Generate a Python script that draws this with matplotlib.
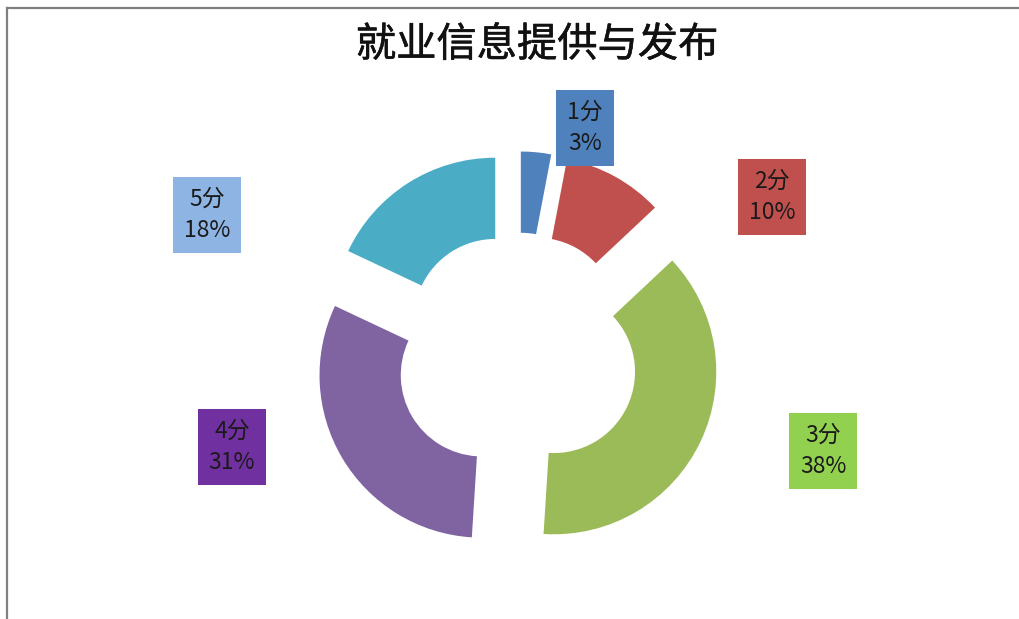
import matplotlib
matplotlib.use("Agg")
import matplotlib.pyplot as plt
import matplotlib.patheffects as pe
from matplotlib.lines import Line2D

plt.rcParams['font.family'] = ['Noto Sans CJK SC', 'DejaVu Sans']

title = "就业信息提供与发布"
scores = ["1分", "2分", "3分", "4分", "5分"]
shares = [3, 10, 38, 31, 18]
wedge_colors = ["#4F81BD", "#C0504D", "#9BBB59", "#8064A2", "#4BACC6"]
box_colors = ["#4F81BD", "#C0504D", "#92D050", "#7030A0", "#8DB4E2"]
# label box centres in pixels (x, y from top)
label_pos = [(585, 128), (772, 197), (823, 451), (232, 447), (207, 215)]

W, H = 1019, 619
cx, cy, R = 517, 354.5, 162.5

fig = plt.figure(figsize=(W / 100, H / 100), dpi=100)
ax = fig.add_axes([0, 0, 1, 1])

ax.pie(shares, explode=[0.25] * len(shares), startangle=90, counterclock=False,
       colors=wedge_colors, radius=1, wedgeprops=dict(width=0.5, linewidth=0))

# data units: 1 = outer radius, placed at the pixel centre
ax.set_xlim(-cx / R, (W - cx) / R)
ax.set_ylim(-(H - cy) / R, cy / R)
ax.set_aspect('auto')
ax.axis('off')

for name, pct, (px, py), bc in zip(scores, shares, label_pos, box_colors):
    fig.text(px / W, 1 - py / H, f"{name}\n{pct}%", ha='center', va='center',
             fontsize=16.5, color='#1a1a1a', linespacing=1.45,
             bbox=dict(boxstyle='square,pad=0.48', facecolor=bc, edgecolor='none'))

fig.text(537 / W, 1 - 45 / H, title, ha='center', va='center',
         fontsize=29, color='#111111',
         path_effects=[pe.withStroke(linewidth=0.4, foreground='#111111')])

# chart area border (top and left edges visible)
fig.add_artist(Line2D([7 / W, 1], [1 - 8 / H, 1 - 8 / H], color='#808080', lw=1.6))
fig.add_artist(Line2D([7 / W, 7 / W], [1 - 8 / H, 0], color='#808080', lw=1.6))

fig.savefig("out.png", dpi=100, facecolor='white')
